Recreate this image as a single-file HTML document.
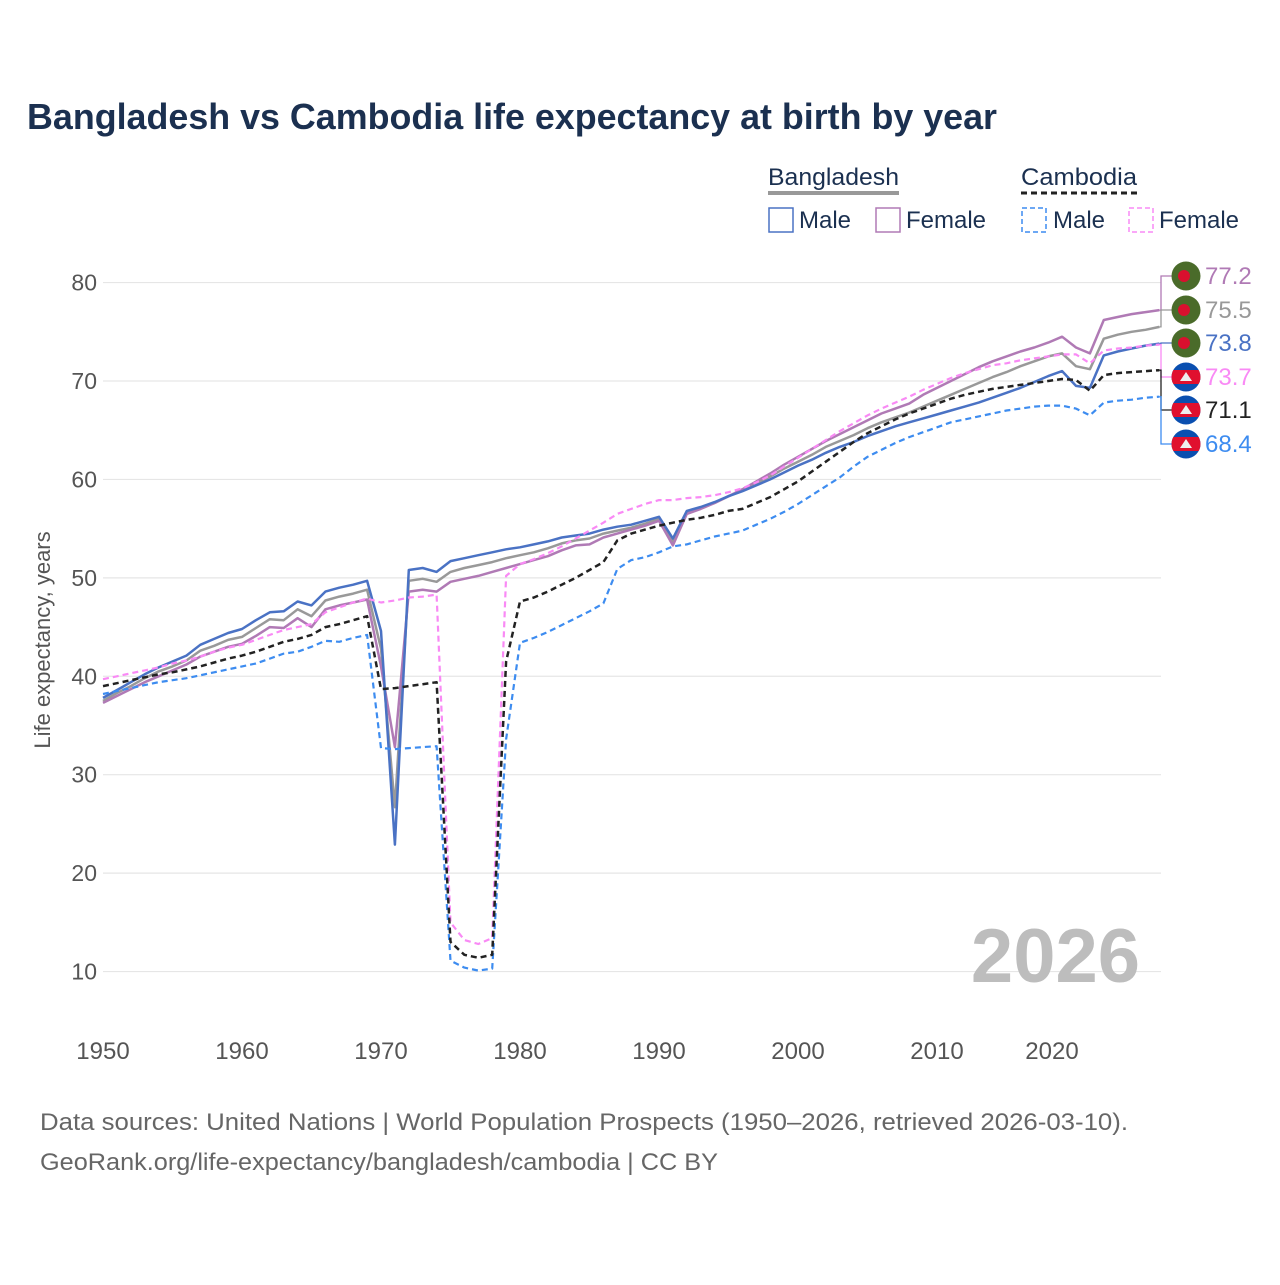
<!DOCTYPE html>
<html><head><meta charset="utf-8">
<style>
body{margin:0;background:#fff;}
svg text{font-family:"Liberation Sans",sans-serif;}
</style></head>
<body>
<svg id="chart" width="1280" height="1280" viewBox="0 0 1280 1280" xmlns="http://www.w3.org/2000/svg">
<rect width="1280" height="1280" fill="#fff"/>
<text x="27" y="129" font-size="36" font-weight="bold" fill="#1b3050" textLength="970" lengthAdjust="spacingAndGlyphs">Bangladesh vs Cambodia life expectancy at birth by year</text>
<g>
  <text x="768" y="185" font-size="24" fill="#1b3050" textLength="131" lengthAdjust="spacingAndGlyphs">Bangladesh</text>
  <line x1="768" y1="193" x2="899" y2="193" stroke="#999" stroke-width="4"/>
  <text x="1021" y="185" font-size="24" fill="#1b3050" textLength="116" lengthAdjust="spacingAndGlyphs">Cambodia</text>
  <line x1="1021" y1="193" x2="1137" y2="193" stroke="#222" stroke-width="3" stroke-dasharray="6,4"/>
  <rect x="769" y="208" width="24" height="24" fill="none" stroke="#4a72c4" stroke-width="1.5"/>
  <text x="799" y="228" font-size="24" fill="#1b3050">Male</text>
  <rect x="876" y="208" width="24" height="24" fill="none" stroke="#b07ab5" stroke-width="1.5"/>
  <text x="906" y="228" font-size="24" fill="#1b3050">Female</text>
  <rect x="1022" y="208" width="24" height="24" fill="none" stroke="#3d8cf0" stroke-width="1.5" stroke-dasharray="5,3"/>
  <text x="1053" y="228" font-size="24" fill="#1b3050">Male</text>
  <rect x="1129" y="208" width="24" height="24" fill="none" stroke="#f98af5" stroke-width="1.5" stroke-dasharray="5,3"/>
  <text x="1159" y="228" font-size="24" fill="#1b3050">Female</text>
</g>
<g id="grid"></g>
<g id="yticks"></g>
<g id="xticks"></g>
<text x="1140" y="982" font-size="76" font-weight="bold" fill="#bdbdbd" text-anchor="end">2026</text>
<text transform="translate(50,640) rotate(-90)" font-size="22" fill="#555" text-anchor="middle">Life expectancy, years</text>
<g id="series"></g>
<g id="endlabels"></g>
<text x="40" y="1130" font-size="24" fill="#666" textLength="1088" lengthAdjust="spacingAndGlyphs">Data sources: United Nations | World Population Prospects (1950–2026, retrieved 2026-03-10).</text>
<text x="40" y="1170" font-size="24" fill="#666" textLength="678" lengthAdjust="spacingAndGlyphs">GeoRank.org/life-expectancy/bangladesh/cambodia | CC BY</text>
</svg>
<script>
const startYear = 1950;
const yTicks = [10,20,30,40,50,60,70,80];
const xTicks = [1950,1960,1970,1980,1990,2000,2010,2020];
const bgdMale = [37.8,38.6,39.4,40.2,40.9,41.5,42.1,43.2,43.8,44.4,44.8,45.7,46.5,46.6,47.6,47.2,48.6,49.0,49.3,49.7,44.6,22.9,50.8,51.0,50.6,51.7,52.0,52.3,52.6,52.9,53.1,53.4,53.7,54.1,54.3,54.5,54.9,55.2,55.4,55.8,56.2,54.0,56.8,57.2,57.7,58.3,58.8,59.4,60.0,60.7,61.4,62.0,62.7,63.3,63.8,64.4,64.9,65.4,65.8,66.2,66.6,67.0,67.4,67.8,68.3,68.8,69.3,69.9,70.5,71.0,69.5,69.3,72.6,73.0,73.3,73.6,73.8];
const bgdFemale = [37.3,38.0,38.7,39.4,40.0,40.6,41.2,42.0,42.5,43.0,43.3,44.1,45.0,44.9,45.9,45.0,46.8,47.2,47.5,47.8,41.0,32.8,48.6,48.8,48.6,49.6,49.9,50.2,50.6,51.0,51.4,51.8,52.2,52.8,53.3,53.4,54.1,54.5,54.9,55.3,55.8,53.3,56.5,57.0,57.6,58.3,59.0,59.8,60.6,61.5,62.3,63.1,63.9,64.6,65.3,66.0,66.7,67.2,67.7,68.6,69.3,70.0,70.7,71.4,72.0,72.5,73.0,73.4,73.9,74.5,73.4,72.8,76.2,76.5,76.8,77.0,77.2];
const bgdTotal = [37.5,38.3,39.0,39.8,40.5,41.0,41.6,42.6,43.1,43.7,44.0,44.9,45.8,45.7,46.8,46.1,47.7,48.1,48.4,48.8,42.8,26.7,49.7,49.9,49.6,50.6,51.0,51.3,51.6,52.0,52.3,52.6,53.0,53.5,53.8,54.0,54.5,54.8,55.1,55.5,56.0,53.6,56.6,57.1,57.6,58.3,58.9,59.6,60.3,61.1,61.8,62.5,63.3,63.9,64.5,65.2,65.8,66.3,66.8,67.4,68.0,68.6,69.2,69.8,70.4,70.9,71.5,72.0,72.5,72.8,71.5,71.2,74.3,74.7,75.0,75.2,75.5];
const khmMale = [38.2,38.5,38.8,39.1,39.4,39.6,39.8,40.1,40.4,40.7,41.0,41.3,41.8,42.3,42.5,43.0,43.6,43.5,43.9,44.2,32.7,32.6,32.7,32.8,32.9,11.1,10.4,10.1,10.3,33.6,43.4,43.9,44.5,45.2,45.9,46.6,47.4,50.9,51.8,52.1,52.6,53.2,53.4,53.8,54.2,54.5,54.8,55.4,56.0,56.7,57.5,58.4,59.3,60.2,61.3,62.3,63.0,63.7,64.3,64.8,65.3,65.8,66.1,66.4,66.7,67.0,67.2,67.4,67.5,67.5,67.2,66.5,67.8,68.0,68.1,68.3,68.4];
const khmFemale = [39.7,40.0,40.3,40.6,40.9,41.3,41.6,42.0,42.5,42.9,43.2,43.7,44.2,44.7,45.0,45.3,46.5,47.0,47.5,47.9,47.5,47.7,48.0,48.1,48.3,15.0,13.2,12.8,13.4,50.2,51.4,51.9,52.5,53.2,54.0,54.8,55.6,56.5,57.0,57.5,57.9,57.9,58.1,58.2,58.4,58.7,59.1,59.7,60.4,61.3,62.2,63.1,64.0,64.9,65.7,66.5,67.2,67.8,68.4,69.1,69.7,70.3,70.8,71.2,71.6,71.8,72.1,72.3,72.5,72.7,72.7,71.8,73.1,73.3,73.4,73.6,73.7];
const khmTotal = [39.0,39.3,39.6,39.9,40.2,40.4,40.7,41.0,41.4,41.8,42.1,42.5,43.0,43.5,43.8,44.2,45.0,45.3,45.7,46.1,38.7,38.8,39.0,39.2,39.4,13.0,11.7,11.4,11.7,41.5,47.6,48.0,48.6,49.3,50.0,50.8,51.6,53.8,54.5,54.9,55.3,55.6,55.9,56.1,56.4,56.8,57.0,57.6,58.2,59.0,59.8,60.8,61.8,62.8,63.8,64.7,65.4,66.1,66.7,67.2,67.7,68.2,68.6,68.9,69.2,69.4,69.6,69.8,70.0,70.2,70.1,69.0,70.6,70.8,70.9,71.0,71.1];
const endLabelYs = [276,310,343,377,410,444];

const NS = "http://www.w3.org/2000/svg";
const X0 = 103, PXYR = 13.9;
const Y0 = 1070, PXU = 9.843;
const xs = yr => X0 + (yr - 1950) * PXYR;
const ys = v => Y0 - v * PXU;
function mk(tag, attrs, parent){ const e=document.createElementNS(NS,tag); for(const k in attrs) e.setAttribute(k,attrs[k]); parent.appendChild(e); return e; }

const grid = document.getElementById('grid');
const yt = document.getElementById('yticks');
yTicks.forEach(v=>{
  const l = mk('line',{x1:103,x2:1161,y1:ys(v),y2:ys(v),stroke:'#e6e6e6','stroke-width':1.2},grid);
  
  
  const t = mk('text',{x:97,y:ys(v)+8,'font-size':23,fill:'#555','text-anchor':'end'},yt);
  t.textContent = v;
  
  
});
const xt = document.getElementById('xticks');
xTicks.forEach(yr=>{
  const cx = yr===2020 ? 1052 : xs(yr);
  const t = mk('text',{x:cx,y:1059,'font-size':24,fill:'#555','text-anchor':'middle'},xt);
  t.textContent = yr;
  
  
});

const seriesList = [
  {name:'bgd-total', data:bgdTotal, color:'#999', dash:null, w:2.5},
  {name:'bgd-female', data:bgdFemale, color:'#b07ab5', dash:null, w:2.5},
  {name:'bgd-male', data:bgdMale, color:'#4a72c4', dash:null, w:2.5},
  {name:'khm-male', data:khmMale, color:'#3d8cf0', dash:'6,4', w:2.2},
  {name:'khm-female', data:khmFemale, color:'#f98af5', dash:'6,4', w:2.2},
  {name:'khm-total', data:khmTotal, color:'#222', dash:'6,4', w:2.5}
];
const sg = document.getElementById('series');
seriesList.forEach(s=>{
  const pts = s.data.map((v,i)=>xs(startYear+i).toFixed(1)+','+ys(v).toFixed(1)).join(' ');
  const a = {points:pts,fill:'none',stroke:s.color,'stroke-width':s.w,'stroke-linejoin':'round'};
  if(s.dash) a['stroke-dasharray']=s.dash;
  const p = mk('polyline',a,sg);
  
  
});

const labels = [
  {name:'bgd-female', data:bgdFemale, color:'#b07ab5', flag:'bgd'},
  {name:'bgd-total', data:bgdTotal, color:'#999', flag:'bgd'},
  {name:'bgd-male', data:bgdMale, color:'#4a72c4', flag:'bgd'},
  {name:'khm-female', data:khmFemale, color:'#f98af5', flag:'khm'},
  {name:'khm-total', data:khmTotal, color:'#222', flag:'khm'},
  {name:'khm-male', data:khmMale, color:'#3d8cf0', flag:'khm'}
];
const eg = document.getElementById('endlabels');
labels.forEach((l,i)=>{
  const last = l.data[l.data.length-1];
  const ly = endLabelYs[i];
  const endX = xs(startYear + l.data.length - 1);
  const c = mk('polyline',{points:`${endX},${ys(last)} 1161,${ys(last)} 1161,${ly} 1172,${ly}`,fill:'none',stroke:l.color,'stroke-width':1.3},eg);
  
  
  const g = mk('g',{},eg);
  
  
  if(l.flag==='bgd'){
    mk('circle',{cx:1186,cy:ly,r:14.5,fill:'#4a6b2a'},g);
    mk('circle',{cx:1184,cy:ly,r:6,fill:'#d9102e'},g);
  } else {
    const id='clip'+i;
    const cp = mk('clipPath',{id:id},g);
    mk('circle',{cx:1186,cy:ly,r:14.5},cp);
    const gg = mk('g',{'clip-path':'url(#'+id+')'},g);
    mk('rect',{x:1170,y:ly-16,width:32,height:32,fill:'#0a4fb0'},gg);
    mk('rect',{x:1170,y:ly-7,width:32,height:14,fill:'#e0102e'},gg);
    mk('polygon',{points:`1180,${ly+4} 1192,${ly+4} 1186,${ly-5}`,fill:'#eee'},gg);
  }
  const t = mk('text',{x:1205,y:ly+8,'font-size':24,fill:l.color},eg);
  t.textContent = last.toFixed(1);
  
  
});
</script>
</body></html>
